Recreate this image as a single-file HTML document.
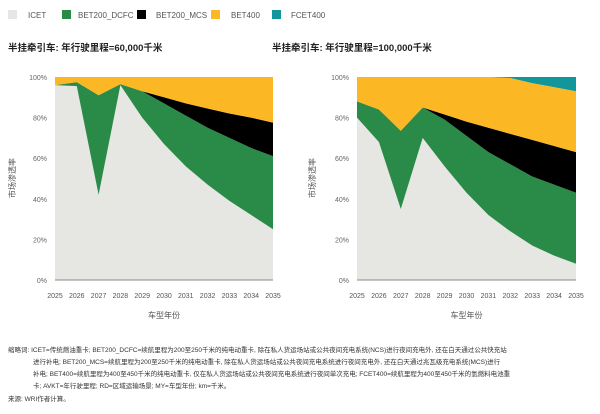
<!DOCTYPE html>
<html><head><meta charset="utf-8"><style>
body{margin:0;background:#fff;font-family:"Liberation Sans","Noto Sans CJK SC",sans-serif;}
svg{display:block}
</style></head><body>
<svg id="s" width="600" height="414" xmlns="http://www.w3.org/2000/svg" font-family="Liberation Sans, Noto Sans CJK SC, sans-serif">
<g font-size="8" fill="#555">
<rect x="8" y="10" width="9" height="9" fill="#e6e6e2"/><text x="28" y="18">ICET</text>
<rect x="62" y="10" width="9" height="9" fill="#2a8a48"/><text x="78" y="18">BET200_DCFC</text>
<rect x="137" y="10" width="9" height="9" fill="#000"/><text x="156" y="18">BET200_MCS</text>
<rect x="211" y="10" width="9" height="9" fill="#fbb724"/><text x="231" y="18">BET400</text>
<rect x="272" y="10" width="9" height="9" fill="#11969b"/><text x="291" y="18">FCET400</text>
</g>
<g font-size="9.5" font-weight="bold" fill="#222">
<text x="8" y="51">半挂牵引车: 年行驶里程=60,000千米</text>
<text x="272" y="51">半挂牵引车: 年行驶里程=100,000千米</text>
</g>
<g id="c"></g>
<g font-size="6.5" fill="#333">
<text x="8" y="352">缩略词: ICET=传统燃油重卡; BET200_DCFC=续航里程为200至250千米的纯电动重卡, 除在私人货运场站或公共夜间充电系统(NCS)进行夜间充电外, 还在白天通过公共快充站</text>
<text x="33" y="364">进行补电; BET200_MCS=续航里程为200至250千米的纯电动重卡, 除在私人货运场站或公共夜间充电系统进行夜间充电外, 还在白天通过兆瓦级充电系统(MCS)进行</text>
<text x="33" y="376">补电; BET400=续航里程为400至450千米的纯电动重卡, 仅在私人货运场站或公共夜间充电系统进行夜间单次充电; FCET400=续航里程为400至450千米的氢燃料电池重</text>
<text x="33" y="388">卡; AVKT=年行驶里程; RD=区域运输场景; MY=车型年份; km=千米。</text>
<text x="8" y="401">来源: WRI作者计算。</text>
</g>
</svg>
<script>
const NS="http://www.w3.org/2000/svg",g=document.getElementById('c');
function el(t,a,txt){const e=document.createElementNS(NS,t);for(const k in a)e.setAttribute(k,a[k]);if(txt)e.textContent=txt;g.appendChild(e);return e;}
const Y0=280,H=203;
function chart(x0,x1,layers,yl){
 const dx=(x1-x0)/10,X=i=>x0+i*dx,Yv=v=>Y0-v/100*H;
 const cols=['#e6e6e2','#2a8a48','#000','#fbb724','#11969b'];
 let prev=new Array(11).fill(0);
 layers.forEach((L,k)=>{let p=[];for(let i=0;i<11;i++)p.push(X(i)+','+Yv(L[i]));for(let i=10;i>=0;i--)p.push(X(i)+','+Yv(prev[i]));
  el('polygon',{points:p.join(' '),fill:cols[k]});prev=L;});
 el('line',{x1:x0,x2:x1,y1:Y0,y2:Y0,stroke:'#888','stroke-width':1});
 for(let j=0;j<=5;j++)el('text',{x:x0-8,y:Yv(j*20)+3,'font-size':7,fill:'#666','text-anchor':'end'},(j*20)+'%');
 for(let i=0;i<11;i++)el('text',{x:X(i),y:298,'font-size':7,fill:'#555','text-anchor':'middle'},2025+i);
 el('text',{x:(x0+x1)/2,y:318,'font-size':8,fill:'#555','text-anchor':'middle'},'车型年份');
 el('text',{x:yl,y:178,'font-size':8,fill:'#555','text-anchor':'middle',transform:`rotate(-90 ${yl} 178)`},'市场渗透率');
}
chart(55,273,[
[96,95.5,42,96,80,67,56,47,39,32,25],
[96,97.5,91,96.5,93,87,81,75,70,65,61],
[96,97.5,91,96.5,93,90,87,84.5,82,80,77.5],
[100,100,100,100,100,100,100,100,100,100,100]],15);
chart(357,576,[
[80,68,35,70,56,43,32,24,17,12,8],
[88,84,73.5,85,79,71,63,57,51,47,43],
[88,84,73.5,85,81.5,78,75,72,69,66,63],
[100,100,100,100,100,100,100,99.5,97,95,93],
[100,100,100,100,100,100,100,100,100,100,100]],315);
</script>
</body></html>
